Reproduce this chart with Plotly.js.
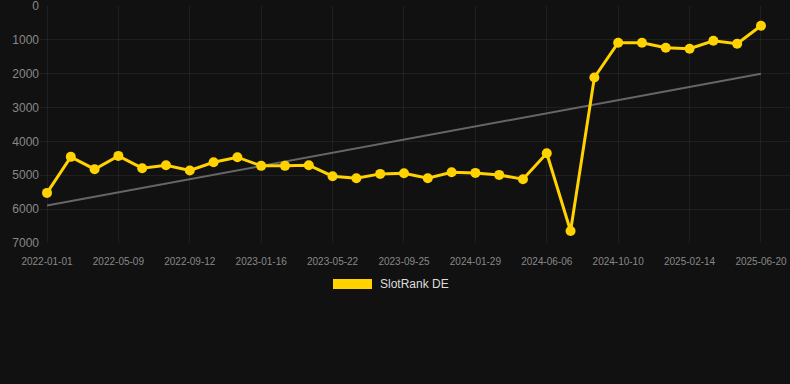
<!DOCTYPE html>
<html>
<head>
<meta charset="utf-8">
<script src="https://cdn.plot.ly/plotly-3.0.1.min.js"></script>
<style>
html,body{margin:0;padding:0;background:#111111;}
#chart{width:790px;height:384px;}
</style>
</head>
<body>
<div id="chart"></div>
<script>
const dates = [
  "2022-01-01","2022-02-12","2022-03-26","2022-05-09","2022-06-20","2022-08-01",
  "2022-09-12","2022-10-24","2022-12-05","2023-01-16","2023-02-27","2023-04-10",
  "2023-05-22","2023-07-03","2023-08-14","2023-09-25","2023-11-06","2023-12-18",
  "2024-01-29","2024-03-12","2024-04-24","2024-06-06","2024-07-18","2024-08-29",
  "2024-10-10","2024-11-21","2025-01-03","2025-02-14","2025-03-28","2025-05-09",
  "2025-06-20"
];
const rankDE = [
  5520, 4456, 4820, 4427, 4790, 4703,
  4860, 4614, 4466, 4722, 4722, 4703,
  5028, 5087, 4959, 4939, 5087, 4910,
  4930, 4989, 5117, 4348, 6645, 2110,
  1084, 1084, 1232, 1262, 1025, 1114,
  582
];
const tickLabels = ["2022-01-01","2022-05-09","2022-09-12","2023-01-16","2023-05-22",
  "2023-09-25","2024-01-29","2024-06-06","2024-10-10","2025-02-14","2025-06-20"];
const yTicks = [0,1000,2000,3000,4000,5000,6000,7000];
const seriesName = "SlotRank DE";

// linear trend (least squares over point index)
const n = rankDE.length;
const idx = rankDE.map((_, i) => i);
const mx = idx.reduce((a,b)=>a+b,0)/n;
const my = rankDE.reduce((a,b)=>a+b,0)/n;
let sxy = 0, sxx = 0;
for (let i = 0; i < n; i++) { sxy += (idx[i]-mx)*(rankDE[i]-my); sxx += (idx[i]-mx)*(idx[i]-mx); }
const slope = sxy/sxx, icpt = my - slope*mx;
const trend = idx.map(i => icpt + slope*i);

const gold = "rgb(255,210,0)";
const traces = [
  {
    x: dates, y: trend, type: "scatter", mode: "lines",
    line: {color: "#666666", width: 2}, hoverinfo: "skip", showlegend: false
  },
  {
    x: dates, y: rankDE, type: "scatter", mode: "lines+markers", name: seriesName,
    line: {color: gold, width: 3}, marker: {color: gold, size: 10}, showlegend: false
  }
];

const layout = {
  width: 790, height: 384,
  paper_bgcolor: "#111111", plot_bgcolor: "#111111",
  margin: {l: 40, r: 0, t: 6, b: 141},
  font: {family: "Arial, Liberation Sans, sans-serif", color: "#888888"},
  showlegend: false,
  xaxis: {
    type: "category",
    range: [-0.294, 31.22],
    tickmode: "array", tickvals: tickLabels, ticktext: tickLabels,
    tickfont: {size: 10, color: "#888888"},
    showgrid: true, gridcolor: "rgba(255,255,255,0.06)", gridwidth: 1,
    zeroline: false, showline: false, ticks: "outside", ticklen: 9, tickcolor: "rgba(0,0,0,0)",
    ticklabeloverflow: "allow"
  },
  yaxis: {
    range: [7000.5, -0.5], autorange: false,
    tickmode: "array", tickvals: yTicks, ticktext: yTicks.map(String),
    tickfont: {size: 12, color: "#888888"},
    showgrid: true, gridcolor: "rgba(255,255,255,0.06)", gridwidth: 1,
    zeroline: false, showline: false, ticks: "", ticklen: 0,
    ticklabeloverflow: "allow"
  },
  shapes: [
    {type: "rect", xref: "paper", yref: "paper",
     x0: (333-40)/750, x1: (372-40)/750,
     y0: (384-141-289)/237, y1: (384-141-279)/237,
     fillcolor: gold, line: {width: 0}}
  ],
  annotations: [
    {xref: "paper", yref: "paper", x: (378-40)/750, y: (384-141-284)/237,
     xanchor: "left", yanchor: "middle", showarrow: false,
     text: seriesName, font: {size: 12, color: "#dddddd"}}
  ]
};

Plotly.newPlot("chart", traces, layout, {displayModeBar: false, staticPlot: true});
</script>
</body>
</html>
